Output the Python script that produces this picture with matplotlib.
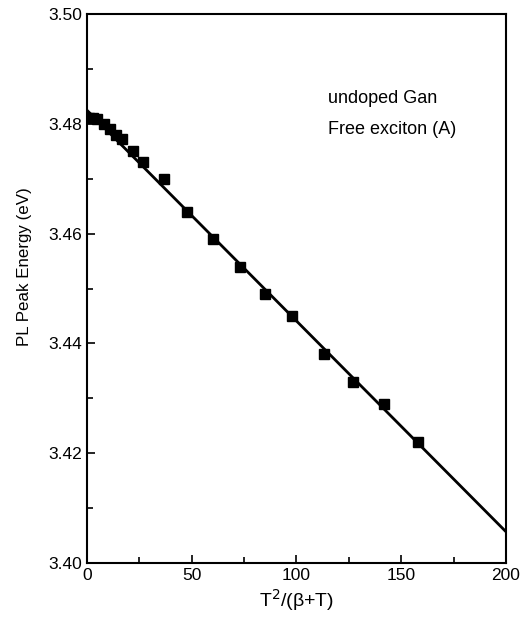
import numpy as np
import matplotlib
matplotlib.use("Agg")
from matplotlib import pyplot as plt
from matplotlib.ticker import MultipleLocator

plt.rcParams['font.family'] = ['Liberation Sans', 'DejaVu Sans']

# measured points: T^2/(beta+T) vs PL peak energy (eV)
x_pts = [1, 3, 5, 8, 11, 14, 17, 22, 27, 37, 48, 60, 73, 85, 98, 113, 127, 142, 158]
e_pts = [3.4810, 3.4810, 3.4808, 3.4800, 3.4790, 3.4780, 3.4772, 3.4750, 3.4730,
         3.4700, 3.4640, 3.4590, 3.4540, 3.4490, 3.4450, 3.4380, 3.4330, 3.4290, 3.4220]

# fitted straight line (end points)
fit_x = [0, 200]
fit_e = [3.4825, 3.4057]

fig = plt.figure(figsize=(5.2, 6.23), dpi=100)
ax = fig.add_axes([0.167, 0.0963, 0.806, 0.8812])

ax.plot(fit_x, fit_e, color='black', lw=2.0, zorder=2)
ax.plot(x_pts, e_pts, 's', color='black', ms=6.8, zorder=3)

ax.set_xlim(0, 200)
ax.set_ylim(3.40, 3.50)
ax.xaxis.set_major_locator(MultipleLocator(50))
ax.xaxis.set_minor_locator(MultipleLocator(25))
ax.yaxis.set_major_locator(MultipleLocator(0.02))
ax.yaxis.set_minor_locator(MultipleLocator(0.01))
ax.yaxis.set_major_formatter(matplotlib.ticker.FormatStrFormatter('%.2f'))
ax.tick_params(which='both', direction='in', top=False, right=False, labelsize=12.5)
ax.tick_params(which='major', length=6, width=1.2)
ax.tick_params(which='minor', length=4, width=1.2)
for s in ax.spines.values():
    s.set_linewidth(1.5)

ax.set_xlabel(r'T$^2$/(β+T)', fontsize=14, labelpad=3)
ax.set_ylabel('PL Peak Energy (eV)', fontsize=12.2)
ax.yaxis.set_label_coords(-0.131, 0.54)

ax.text(115, 3.4847, 'undoped Gan', fontsize=13, va='center')
ax.text(115, 3.4789, 'Free exciton (A)', fontsize=13, va='center')

fig.savefig('out.png', dpi=100)
